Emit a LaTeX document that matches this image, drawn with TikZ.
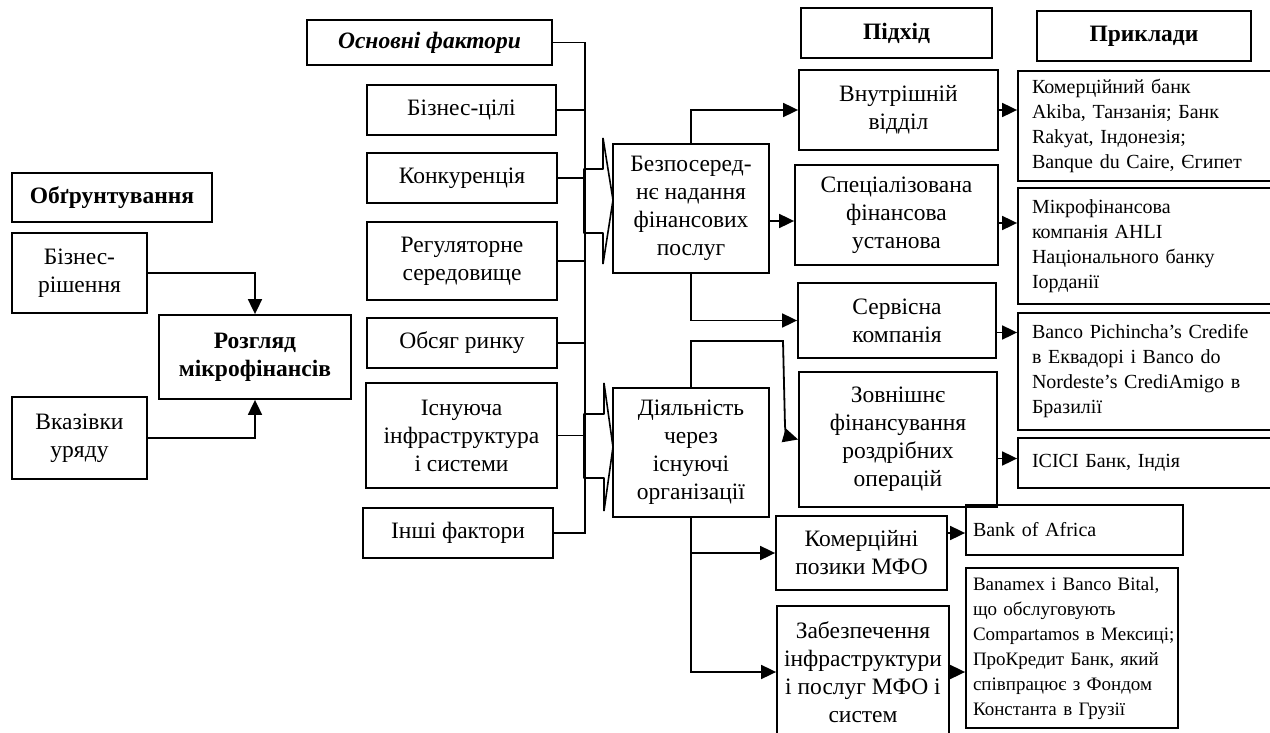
\documentclass[tikz,border=0pt]{standalone}
\usepackage{fontspec}
\setmainfont{Liberation Serif}
\usetikzlibrary{arrows.meta,calc}
\newcommand\mainf{\fontsize{23.5}{28}\selectfont}
\newcommand\exf{\fontsize{20}{25}\selectfont}
\newcommand\nbl[1]{\mbox{#1}}
\begin{document}
\begin{tikzpicture}[x=1pt,y=-1pt,line width=1.8pt,
  box/.style={draw, inner sep=0pt, align=center, font=\mainf},
  exbox/.style={draw, inner ysep=0pt, align=left, font=\exf},
  arr/.style={-{Triangle[length=15pt,width=14pt]}},
  blockarrow/.style={draw, line width=1.6pt, line join=bevel}]
\fill[white] (0,0) rectangle (1270,733);
\useasboundingbox (0,0) rectangle (1270,733);
\clip (0,0) rectangle (1270,733);

% left part
\node[box, minimum width=200pt, minimum height=49pt] (obg) at (112,197.5) {\bfseries Обґрунтування};
\node[box, minimum width=135pt, minimum height=80pt] (bizr) at (79.5,273) {Бізнес-\\рішення};
\node[box, minimum width=192pt, minimum height=84pt] (rozg) at (255,357) {\bfseries Розгляд\\\bfseries мікрофінансів};
\node[box, minimum width=135pt, minimum height=82pt] (vkaz) at (79.5,438) {Вказівки\\уряду};
\draw[arr] (bizr.east) -| (rozg.north);
\draw[arr] (vkaz.east) -| (rozg.south);

% factors
\node[box, minimum width=245pt, minimum height=45pt] (osn) at (429.5,42.5) {\bfseries\itshape Основні фактори};
\node[box, minimum width=189pt, minimum height=50pt] (bc) at (461.5,110) {Бізнес-цілі};
\node[box, minimum width=190pt, minimum height=50pt] (kon) at (462,178) {Конкуренція};
\node[box, minimum width=190pt, minimum height=78pt] (reg) at (462,261) {Регуляторне\\середовище};
\node[box, minimum width=190pt, minimum height=50pt] (obs) at (462,343) {Обсяг ринку};
\node[box, minimum width=191pt, minimum height=105pt] (isn) at (461.5,435.5) {Існуюча\\інфраструктура\\і системи};
\node[box, minimum width=190pt, minimum height=50pt] (inshi) at (458,533) {Інші фактори};
\coordinate (bus) at (585,0);
\draw (osn.east) -| (inshi.east -| bus) -- (inshi.east);
\foreach \n in {bc,kon,reg,obs,isn} \draw (\n.east) -- (\n.east -| bus);

% block arrows
\draw[blockarrow] (584,169) -- (603,169) -- (603,138) -- (613,200) -- (603,264) -- (603,233) -- (584,233) -- cycle;
\draw[blockarrow] (584,414) -- (604,414) -- (604,383) -- (613,447) -- (604,511) -- (604,478) -- (584,478) -- cycle;

% middle approaches
\node[box, minimum width=156pt, minimum height=129pt] (bez) at (691,208.5) {Безпосеред-\\нє надання\\фінансових\\послуг};
\node[box, minimum width=156pt, minimum height=129pt] (diy) at (691,452.5) {Діяльність\\через\\існуючі\\організації};

% headers
\node[box, minimum width=191pt, minimum height=50pt] (pidhid) at (896.5,33) {\bfseries Підхід};
\node[box, minimum width=214pt, minimum height=50pt] (prykl) at (1144,36) {\bfseries Приклади};

% approach boxes
\node[box, minimum width=199pt, minimum height=80pt] (vnut) at (898.5,110) {Внутрішній\\відділ};
\node[box, minimum width=203pt, minimum height=100pt] (spec) at (896.5,215) {Спеціалізована\\фінансова\\установа};
\node[box, minimum width=198pt, minimum height=75pt] (serv) at (897,320.5) {Сервісна\\компанія};
\node[box, minimum width=198pt, minimum height=135pt] (zovn) at (898,439.5) {Зовнішнє\\фінансування\\роздрібних\\операцій};
\node[box, minimum width=171pt, minimum height=74pt] (kom) at (861.5,553) {Комерційні\\позики МФО};
\node[box, minimum width=172pt, minimum height=132pt] (zab) at (863,672) {Забезпечення\\інфраструктури\\і послуг МФО і\\систем};

% examples
\node[exbox, inner xsep=14pt, text width=244pt, minimum height=110pt] (ex1) at (1154,126) {Комерційний банк\\Akiba, Танзанія; Банк\\Rakyat, Індонезія;\\Banque du Caire, Єгипет};
\node[exbox, inner xsep=14pt, text width=244pt, minimum height=116pt] (ex2) at (1154,246) {Мікрофінансова\\компанія AHLI\\Національного банку\\Іорданії};
\node[exbox, inner xsep=14pt, text width=244pt, minimum height=117pt] (ex3) at (1154,371.5) {Banco Pichincha’s Credife\\в Еквадорі і Banco do\\Nordeste’s CrediAmigo в\\Бразилії};
\node[exbox, inner xsep=14pt, text width=244pt, minimum height=50pt] (ex4) at (1154,463) {ICICI Банк, Індія};
\node[exbox, inner xsep=7pt, text width=203pt, minimum height=50pt] (ex5) at (1074.5,530) {Bank of Africa};
\node[exbox, inner xsep=7pt, text width=198pt, minimum height=160pt, font=\fontsize{19}{25}\selectfont] (ex6) at (1072,648) {\nbl{Banamex і Banco Bital,}\\\nbl{що обслуговують}\\\nbl{Compartamos в Мексиці;}\\\nbl{ПроКредит Банк, який}\\\nbl{співпрацює з Фондом}\\\nbl{Константа в Грузії}};

% connectors from approaches
\draw[arr] (bez.north) |- (vnut.west);
\draw[arr] (bez.east |- spec.west) ++(0,6) coordinate (b2) -- (b2 -| spec.west);
\draw[arr] (bez.south) |- (serv.west);
\coordinate (d1) at (783,341);
\coordinate (d2) at (785,426);
\coordinate (d3) at (786,436);
\draw[arr] (diy.north) |- (d1) -- (d2) .. controls (d3) .. (zovn.west);
\draw[arr] (diy.south) |- (kom.west);
\draw[arr] (diy.south) |- (zab.west);

% connectors to examples
\draw[arr] (vnut.east) -- (vnut.east -| ex1.west);
\draw[arr] ([yshift=-8pt]spec.east) -- ([yshift=-8pt]spec.east -| ex2.west);
\draw[arr] ([yshift=-12pt]serv.east) -- ([yshift=-12pt]serv.east -| ex3.west);
\draw[arr] ([yshift=-19pt]zovn.east) -- ([yshift=-19pt]zovn.east -| ex4.west);
\draw[arr] ([yshift=20pt]kom.east) -- ([yshift=20pt]kom.east -| ex5.west);
\draw[arr] (zab.east) -- (zab.east -| ex6.west);
\end{tikzpicture}
\end{document}
